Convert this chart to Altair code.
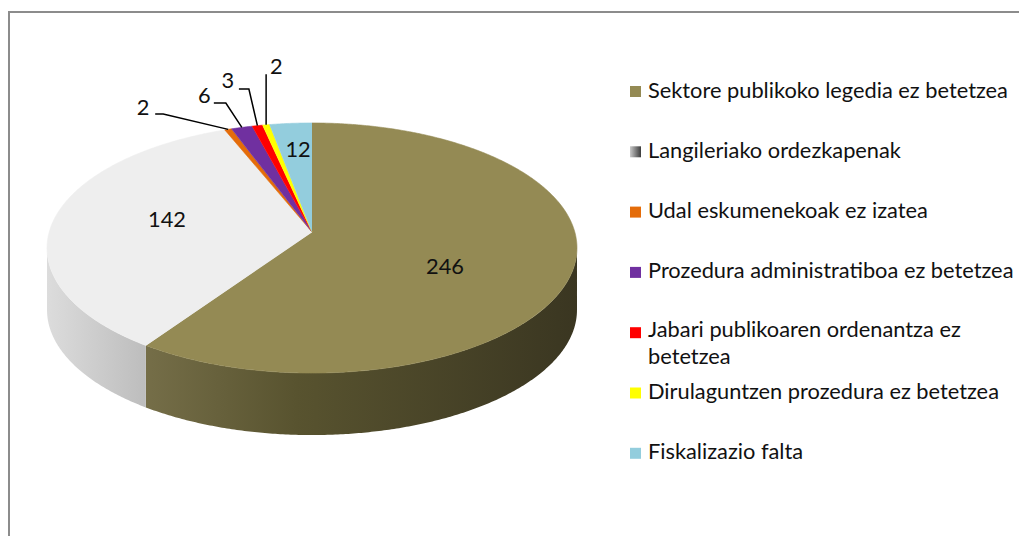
import math
import altair as alt
import pandas as pd

# ---------------- data ----------------
categories = [
    "Sektore publikoko legedia ez betetzea",
    "Langileriako ordezkapenak",
    "Udal eskumenekoak ez izatea",
    "Prozedura administratiboa ez betetzea",
    "Jabari publikoaren ordenantza ez betetzea",
    "Dirulaguntzen prozedura ez betetzea",
    "Fiskalizazio falta",
]
values = [246, 142, 2, 6, 3, 2, 12]
legend_lines = [
    "Sektore publikoko legedia ez betetzea",
    "Langileriako ordezkapenak",
    "Udal eskumenekoak ez izatea",
    "Prozedura administratiboa ez betetzea",
    "Jabari publikoaren ordenantza ez\nbetetzea",
    "Dirulaguntzen prozedura ez betetzea",
    "Fiskalizazio falta",
]
top_colors = ["#948a54", "#eeeeee", "#e46c0a", "#7030a0", "#ff0000", "#ffff00", "#93cddd"]

# ---------------- layout ----------------
W, H = 1011, 528
CX, CY = 312.0, 232.0      # pie centre (page px)
RX, RY = 262.8, 123.0      # projected radii
K = 0.128                  # perspective factor
DEPTH = 62.0               # pie thickness
FONT = "Lato"
FS = 21.8

side_gradients = {
    0: [("#756e48", 0.0), ("#58532f", 0.35), ("#3a3621", 1.0)],
    1: [("#dcdcdc", 0.0), ("#bdbdbd", 1.0)],
}
# inside labels: (r fraction, dx, dy) relative to mid-angle point
inside_layout = {0: (0.5, 5.1, 23.5), 1: (0.5, -15.3, 1.7), 6: (0.5, -2.7, -17.4)}
# outside labels: text offset and leader polyline offsets relative to slice edge point
outside_layout = {
    2: ((-85.2, -14.4), [(-73, -15.4), (-65, -15.4), (0, 0)]),
    3: ((-37.5, -24.4), [(-28, -24.4), (-16, -24.4), (0, 0)]),
    4: ((-29.5, -37.6), [(-18.5, -36.6), (-8.5, -36.6), (0, 0)]),
    5: ((10.1, -50.7), [(0, -50.7), (0, 0)]),
}
LEG_X_SQ, LEG_X_TXT = 635.5, 648
LEG_Y0, LEG_DY, LEG_LINE = 97.5, 60.3, 26.5
LEG_TXT_SHIFT = {4: -1.5}

# ---------------- geometry ----------------
total = sum(values)
cum = [0]
for v in values:
    cum.append(cum[-1] + v)


def proj(theta, r=1.0):
    t = math.radians(theta)
    u = r * math.sin(t)
    v = r * math.cos(t)
    w = 1 + K * v
    return CX + RX * u / w, CY - RY * v / w


def arc(a0, a1):
    n = max(2, int(math.ceil((a1 - a0) / 0.5)) + 1)
    return [proj(a0 + (a1 - a0) * j / (n - 1)) for j in range(n)]


TR = math.degrees(math.acos(-K))
TL = 360 - TR

top_rows, side_rows = [], []
for k, c in enumerate(categories):
    a0 = cum[k] / total * 360
    a1 = cum[k + 1] / total * 360
    pts = [(CX, CY)] + arc(a0, a1)
    for i, (x, y) in enumerate(pts):
        top_rows.append(dict(cat=c, k=k, i=i, x=x, y=y))
    lo, hi = max(a0, TR), min(a1, TL)
    if hi > lo:
        sp = arc(lo, hi)
        poly = sp + [(x, y + DEPTH) for x, y in reversed(sp)]
        for i, (x, y) in enumerate(poly):
            side_rows.append(dict(cat=c, k=k, i=i, x=x, y=y))

top_df = pd.DataFrame(top_rows)
side_df = pd.DataFrame(side_rows)

label_rows, leader_rows = [], []
for k, v in enumerate(values):
    mid = (cum[k] + v / 2) / total * 360
    if k in inside_layout:
        r, dx, dy = inside_layout[k]
        x, y = proj(mid, r)
        label_rows.append(dict(t=str(v), x=x + dx, y=y + dy))
    else:
        ex, ey = proj(mid)
        (tdx, tdy), poly = outside_layout[k]
        label_rows.append(dict(t=str(v), x=ex + tdx, y=ey + tdy))
        for i, (dx, dy) in enumerate(poly):
            leader_rows.append(dict(k=k, i=i, x=ex + dx, y=ey + dy))
label_df = pd.DataFrame(label_rows)
leader_df = pd.DataFrame(leader_rows)

leg_txt_rows, leg_sq_rows = [], []
for k, line in enumerate(legend_lines):
    base = LEG_Y0 + LEG_DY * k
    leg_sq_rows.append(dict(cat=categories[k], k=k, x=LEG_X_SQ, y=base - 6))
    leg_txt_rows.append(dict(t=line, x=LEG_X_TXT, y=base + LEG_TXT_SHIFT.get(k, 0)))
leg_txt_df = pd.DataFrame(leg_txt_rows)
leg_sq_df = pd.DataFrame(leg_sq_rows)

# ---------------- chart ----------------
xs = alt.Scale(domain=[8, 8 + W], nice=False, zero=False)
ys = alt.Scale(domain=[8, 8 + H], reverse=True, nice=False, zero=False)
X = alt.X("x:Q", scale=xs, axis=None)
Y = alt.Y("y:Q", scale=ys, axis=None)
fill_scale = alt.Scale(domain=categories, range=top_colors)


def grad(stops):
    return alt.LinearGradient(
        gradient="linear", x1=0, x2=1, y1=0, y2=0,
        stops=[alt.GradientStop(color=c, offset=o) for c, o in stops],
    )


frame = alt.Chart(pd.DataFrame({"a": [0]}))
frame_top = frame.mark_rule(color="#8c8c8c", strokeWidth=2).encode(
    x=alt.value(0), x2=alt.value(W), y=alt.value(4))
frame_left = frame.mark_rule(color="#8c8c8c", strokeWidth=2).encode(
    x=alt.value(1), y=alt.value(4), y2=alt.value(H))

side_layers = []
for k, stops in side_gradients.items():
    side_layers.append(
        alt.Chart(side_df[side_df.k == k]).mark_line(
            fill=grad(stops), strokeWidth=0, interpolate="linear"
        ).encode(x=X, y=Y, order="i:Q")
    )

top_layer = alt.Chart(top_df).mark_line(strokeWidth=0.6, strokeJoin="round").encode(
    x=X, y=Y, order="i:Q", detail="k:N",
    fill=alt.Fill("cat:N", scale=fill_scale, legend=None),
    stroke=alt.Stroke("cat:N", scale=fill_scale, legend=None),
)

leader_layer = alt.Chart(leader_df).mark_line(color="black", strokeWidth=1.5).encode(
    x=X, y=Y, order="i:Q", detail="k:N")

label_layer = alt.Chart(label_df).mark_text(
    font=FONT, fontSize=FS, align="center", baseline="alphabetic", color="#111111"
).encode(x=X, y=Y, text="t:N")

leg_sq = alt.Chart(leg_sq_df[leg_sq_df.k != 1]).mark_square(size=121, opacity=1).encode(
    x=X, y=Y, fill=alt.Fill("cat:N", scale=fill_scale, legend=None))
leg_sq_grad = alt.Chart(leg_sq_df[leg_sq_df.k == 1]).mark_square(
    size=121, opacity=1, fill=grad([("#c8c8c8", 0.0), ("#3c3c3c", 1.0)])
).encode(x=X, y=Y)
leg_txt = alt.Chart(leg_txt_df).mark_text(
    font=FONT, fontSize=FS, align="left", baseline="alphabetic", color="#111111",
    lineBreak="\n", lineHeight=LEG_LINE,
).encode(x=X, y=Y, text="t:N")

chart = alt.layer(
    frame_top, frame_left, *side_layers, top_layer, leader_layer, label_layer,
    leg_sq, leg_sq_grad, leg_txt,
).properties(
    width=W, height=H, padding=0, autosize=alt.AutoSizeParams(type="none"),
    background="white",
).configure_view(strokeWidth=0)

chart.save("out.html", embed_options={"renderer": "svg", "actions": False})
